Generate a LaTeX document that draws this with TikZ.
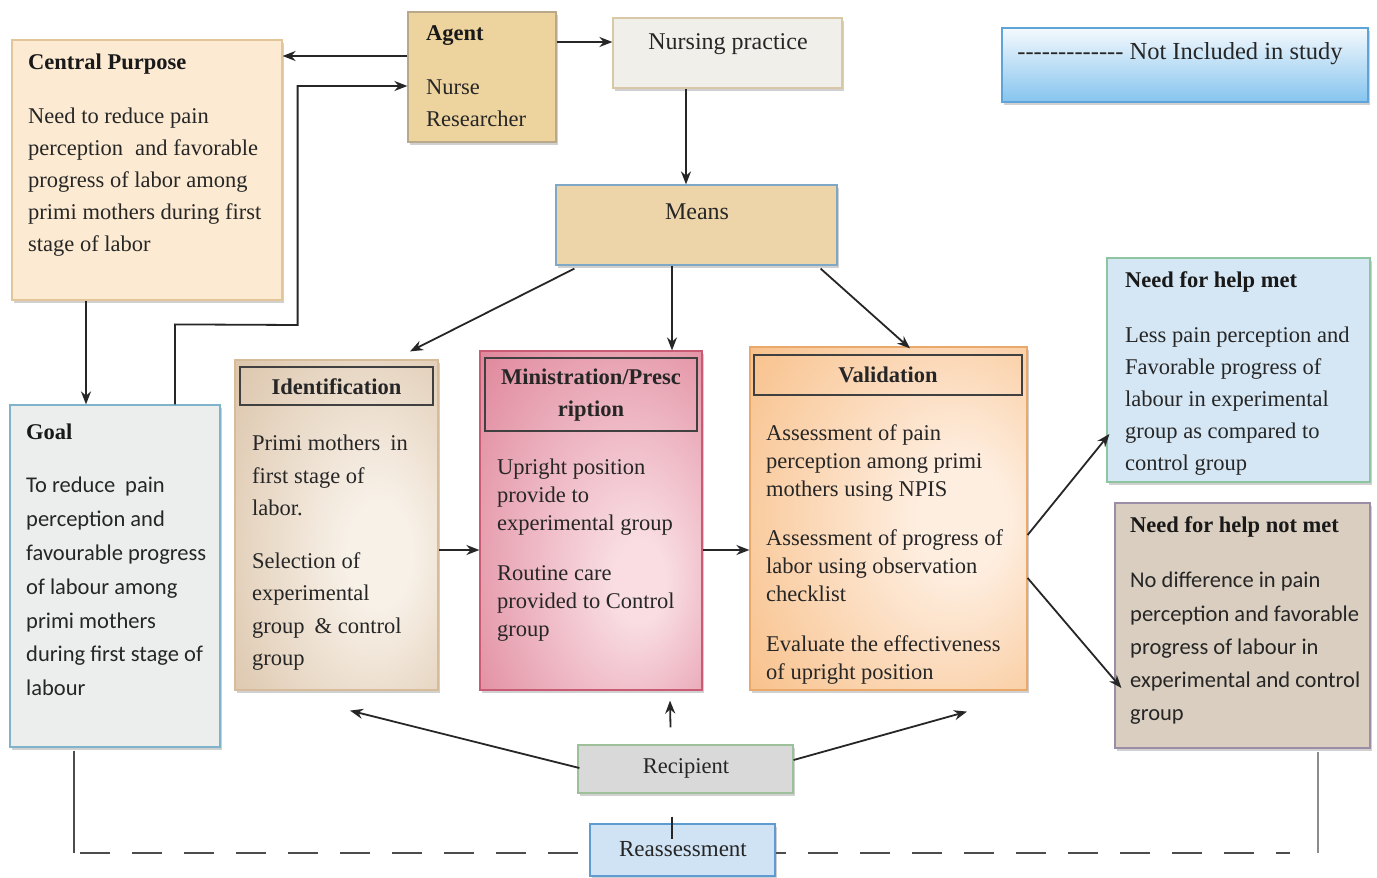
\documentclass[tikz,border=0pt]{standalone}
\usepackage{fontspec}
\setmainfont{Liberation Serif}
\newfontfamily\calib{Carlito}
\usetikzlibrary{calc,arrows.meta,shadows}
\definecolor{cpfill}{HTML}{FCEBD2}\definecolor{cpdraw}{HTML}{E3C59A}
\definecolor{agentfill}{HTML}{EDD39E}\definecolor{agentdraw}{HTML}{B9A88A}
\definecolor{nursfill}{HTML}{F1EFEA}\definecolor{nursdraw}{HTML}{D8C8A8}
\definecolor{legtop}{HTML}{F4F9FD}\definecolor{legbot}{HTML}{86C4EE}\definecolor{legdraw}{HTML}{5FA4D8}
\definecolor{meansfill}{HTML}{EDD5A9}\definecolor{meansdraw}{HTML}{7FA8C6}
\definecolor{metfill}{HTML}{D5E7F4}\definecolor{metdraw}{HTML}{8CC5A0}
\definecolor{goalfill}{HTML}{ECEEEE}\definecolor{goaldraw}{HTML}{7FB2CB}
\definecolor{identin}{HTML}{F8F1E8}\definecolor{identout}{HTML}{C4A078}\definecolor{identdraw}{HTML}{D7BC9C}
\definecolor{minin}{HTML}{F9DDE3}\definecolor{minout}{HTML}{CF4E6C}\definecolor{mindraw}{HTML}{C95C74}
\definecolor{valin}{HTML}{FEEEE0}\definecolor{valout}{HTML}{F39A42}\definecolor{valdraw}{HTML}{EBA86B}
\definecolor{notfill}{HTML}{D9CEC0}\definecolor{notdraw}{HTML}{9C8DA6}
\definecolor{recfill}{HTML}{D9D9D9}\definecolor{recdraw}{HTML}{9DC09A}
\definecolor{reafill}{HTML}{CFE3F4}\definecolor{readraw}{HTML}{5E9BD0}
\pgfdeclareradialshading{identsh}{\pgfpoint{12bp}{-5bp}}{color(0bp)=(identin); color(8bp)=(identin); color(68bp)=(identout)}
\pgfdeclareradialshading{minish}{\pgfpoint{12bp}{-10bp}}{color(0bp)=(minin); color(6bp)=(minin); color(64bp)=(minout)}
\pgfdeclareradialshading{validsh}{\pgfpoint{15bp}{0bp}}{color(0bp)=(valin); color(8bp)=(valin); color(68bp)=(valout)}
\def\hy{-\kern0pt}
\begin{document}
\begin{tikzpicture}[x=1pt,y=-1pt,
  box/.style={draw, line width=1.2pt, rectangle, inner sep=0pt,
    drop shadow={shadow xshift=2pt,shadow yshift=-2.5pt,opacity=0.3,fill=black!60}},
  hdr/.style={draw=black!75, line width=1.1pt, rectangle, inner sep=0pt},
  body/.style={anchor=north west, inner sep=0pt, align=left, text=black!85},
  ttl/.style={anchor=west, inner sep=0pt, text=black!90, font=\fontsize{22.5}{27}\selectfont\bfseries},
  ctr/.style={inner sep=0pt, text=black!85},
  arr/.style={-{Stealth[length=13pt,width=10pt]}, line width=1.8pt, draw=black!85},
  ln/.style={line width=1.8pt, draw=black!85},
]
\useasboundingbox (0,0) rectangle (1377,878);
\fill[white] (0,0) rectangle (1377,878);

% Central purpose
\node[box, fill=cpfill, draw=cpdraw, minimum width=270, minimum height=260] (cp) at (147,170) {};
\node[ttl] (cpt) at (28,64) {Central Purpose};
\node[body, font=\fontsize{22.5}{32}\selectfont] (cpb) at (28,108)
 {Need to reduce pain\\perception\hspace{12pt}and favorable\\progress of labor among\\primi mothers during first\\stage of labor};

% Agent
\node[box, fill=agentfill, draw=agentdraw, minimum width=148, minimum height=130] (agent) at (482,77) {};
\node[ttl] (agentt) at (426,36) {Agent};
\node[body, font=\fontsize{22.5}{32}\selectfont] (agentb) at (426,80) {Nurse\\Researcher};

% Nursing practice
\node[box, fill=nursfill, draw=nursdraw, minimum width=229, minimum height=70] (nurs) at (727.5,53) {};
\node[ctr, font=\fontsize{24}{28}\selectfont] (nurst) at (728,44) {Nursing practice};

% Legend
\node[box, top color=legtop, bottom color=legbot, draw=legdraw, minimum width=366, minimum height=74] (leg) at (1185,65) {};
\node[ctr, font=\fontsize{24.5}{28}\selectfont] (legt) at (1180,54) {\hy\hy\hy\hy\hy\hy\hy\hy\hy\hy\hy\hy\hy\ Not Included in study};

% Means
\node[box, fill=meansfill, draw=meansdraw, minimum width=281, minimum height=80] (means) at (696.5,225) {};
\node[ctr, font=\fontsize{24}{28}\selectfont] (meanst) at (697,212) {Means};

% Need for help met
\node[box, fill=metfill, draw=metdraw, minimum width=263, minimum height=224] (met) at (1238.5,370) {};
\node[ttl] (mett) at (1125,282) {Need for help met};
\node[body, font=\fontsize{22.5}{32}\selectfont] (metb) at (1125,327)
 {Less pain perception and\\Favorable progress of\\labour in experimental\\group as compared to\\control group};

% Goal
\node[box, fill=goalfill, draw=goaldraw, minimum width=210, minimum height=342] (goal) at (115,576) {};
\node[ttl] (goalt) at (26,432) {Goal};
\node[body, font=\calib\fontsize{22.5}{33.8}\selectfont] (goalb) at (26,477)
 {To reduce\hspace{10pt}pain\\perception and\\favourable progress\\of labour among\\primi mothers\\during first stage of\\labour};

% Identification
\node[box, shading=identsh, draw=identdraw, minimum width=203, minimum height=330] (ident) at (336.5,525) {};
\node[hdr, minimum width=193, minimum height=38] (identh) at (336.5,386) {};
\node[ctr, font=\fontsize{22.5}{27}\selectfont\bfseries] (identt) at (336.5,387) {Identification};
\node[body, font=\fontsize{22.5}{32.5}\selectfont] (identb) at (252,435)
 {Primi mothers\hspace{10pt}in\\first stage of\\labor.\\[20pt]Selection of\\experimental\\group\hspace{10pt}\& control\\group};

% Ministration
\node[box, shading=minish, draw=mindraw, minimum width=222, minimum height=339] (minis) at (591,520.5) {};
\node[hdr, minimum width=212, minimum height=73] (minish) at (591,394.5) {};
\node[ctr, align=center, font=\fontsize{22.5}{32}\selectfont\bfseries] (minist) at (591,395) {Ministration/Presc\\ription};
\node[body, font=\fontsize{22.5}{28}\selectfont] (minisb) at (497,459)
 {Upright position\\provide to\\experimental group\\[22pt]Routine care\\provided to Control\\group};

% Validation
\node[box, shading=validsh, draw=valdraw, minimum width=277, minimum height=343] (valid) at (888.5,518.5) {};
\node[hdr, minimum width=268, minimum height=40] (validh) at (888,375) {};
\node[ctr, font=\fontsize{22.5}{27}\selectfont\bfseries] (validt) at (888,375) {Validation};
\node[body, font=\fontsize{22.5}{28}\selectfont] (validb) at (766,424)
 {Assessment of pain\\perception among primi\\mothers using NPIS\\[21pt]Assessment of progress of\\labor using observation\\checklist\\[22pt]Evaluate the effectiveness\\of upright position};

% Need for help not met
\node[box, fill=notfill, draw=notdraw, minimum width=255, minimum height=245] (notmet) at (1242.5,625.5) {};
\node[ttl] (notmett) at (1130,527) {Need for help not met};
\node[body, font=\calib\fontsize{22.5}{33.2}\selectfont] (notmetb) at (1130,572)
 {No difference in pain\\perception and favorable\\progress of labour in\\experimental and control\\group};

% Recipient
\node[box, fill=recfill, draw=recdraw, minimum width=215, minimum height=48] (recip) at (685.5,769) {};
\node[ctr, font=\fontsize{22.5}{27}\selectfont] (recipt) at (686,768) {Recipient};

% bottom feedback line
\coordinate (dl) at (74,853);
\coordinate (dr) at (1318,853);
\draw[line width=1.5pt, draw=black!70] ($(goal.south -| dl)+(0,3)$) -- (dl);
\draw[line width=2pt, draw=black!70, dash pattern=on 30pt off 22pt] ($(dl)+(6,0)$) -- ($(dr)+(-28,0)$);
\draw[line width=1.8pt, draw=black!45] ($(notmet.south -| dr)+(0,3)$) -- (dr);

% Reassessment
\node[box, fill=reafill, draw=readraw, minimum width=185, minimum height=52] (reass) at (682.5,850) {};
\node[ctr, font=\fontsize{23}{27}\selectfont] (reasst) at (683,849) {Reassessment};

% connectors
\draw[arr] ($(agent.west)+(0,-21)$) -- ($(cp.east)+(0,-114)$);
\draw[arr] ($(goal.north)+(60,0)$) -- ($(goal.north)+(60,-80)$) -- ($(cp.east)+(15,155)$) -- ($(cp.east)+(15,-84)$) -- ($(agent.west)+(0,9)$);
\draw[arr] ($(cp.south)+(-61,0)$) -- ($(goal.north)+(-29,0)$);
\draw[arr] ($(agent.east)+(0,-35)$) -- ($(nurs.west)+(0,-11)$);
\draw[arr] ($(nurs.south)+(-41.5,0)$) -- ($(means.north)+(-10.5,0)$);
\draw[arr] ($(means.south west)+(19,3)$) -- ($(ident.north)+(73.5,-8)$);
\draw[arr] ($(means.south)+(-24.5,0)$) -- ($(minis.north)+(81,0)$);
\draw[arr] ($(means.south east)+(-17,3)$) -- ($(valid.north)+(21.5,2)$);
\draw[arr] ($(ident.east)+(0,25)$) -- ($(minis.west)+(0,29.5)$);
\draw[arr] ($(minis.east)+(0,29.5)$) -- ($(valid.west)+(0,31.5)$);
\draw[arr] ($(valid.east)+(0,16.5)$) -- ($(met.west)+(3,64)$);
\draw[arr] ($(valid.east)+(0,59.5)$) -- ($(notmet.west)+(7,62.5)$);
\draw[arr] ($(recip.west)+(2,-1)$) -- ($(ident.south)+(13.5,20)$);
\draw[arr] ($(recip.north)+(-15,-17)$) -- ($(minis.south)+(79,10)$);
\draw[arr] ($(recip.east)+(0,-9)$) -- ($(valid.south)+(78.5,21)$);
\draw[ln] ($(recip.south)+(-13.5,23)$) -- ($(reass.north)+(-10.5,16)$);
\end{tikzpicture}
\end{document}
